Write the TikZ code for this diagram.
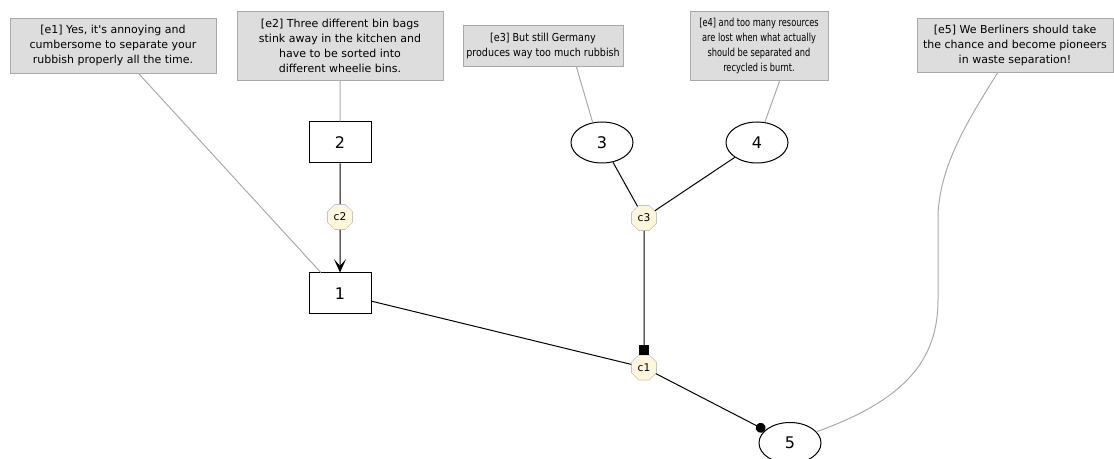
\documentclass[tikz,border=0pt]{standalone}
\usepackage{fontspec}
\setmainfont{DejaVu Sans}
\newfontfamily\narrowfont{DejaVu Sans}[FakeStretch=0.87]
\newfontfamily\narrowerfont{DejaVu Sans}[FakeStretch=0.75]
\usetikzlibrary{shapes.geometric,arrows.meta}
\definecolor{boxgray}{HTML}{DDDDDD}
\definecolor{linegray}{HTML}{AAAAAA}
\definecolor{octfill}{HTML}{FFF7DC}
\definecolor{octline}{HTML}{C4C4C4}
\begin{document}
\begin{tikzpicture}[x=0.75pt,y=-0.75pt]
			\tikzstyle{text box}=[draw=linegray, fill=boxgray, align=center, inner sep=0pt, font=\fontsize{8.25}{11.25}\selectfont]
			\tikzstyle{claim}=[draw, line width=0.75pt, minimum width=46.5pt, minimum height=30.75pt, inner sep=0pt, font=\fontsize{12}{14}\selectfont]
			\tikzstyle{conn}=[draw=octline, fill=octfill, regular polygon, regular polygon sides=8, minimum size=20.3pt, inner sep=0pt, font=\fontsize{8}{9}\selectfont]
			\tikzstyle{link}=[draw=linegray, line width=0.75pt]
			\tikzstyle{edge}=[draw, line width=0.75pt]
			\useasboundingbox (0,0) rectangle (1114,459);
			\path (113,45.5) node[text box, minimum width=154.5pt, minimum height=41.25pt] (e1) {[e1] Yes, it\textquotesingle s annoying and\\cumbersome to separate your\\rubbish properly all the time.}
			      (340,45.5) node[text box, minimum width=154.5pt, minimum height=51.75pt] (e2) {[e2] Three different bin bags\\stink away in the kitchen and\\have to be sorted into\\different wheelie bins.}
			      (543,45.5) node[text box, minimum width=120pt, minimum height=30.75pt, font=\fontsize{8.25}{11.25}\narrowfont] (e3) {[e3] But still Germany\\produces way too much rubbish}
			      (759,45.5) node[text box, minimum width=103.5pt, minimum height=51.75pt, font=\fontsize{8.25}{11.25}\narrowerfont] (e4) {[e4] and too many resources\\are lost when what actually\\should be separated and\\recycled is burnt.}
			      (1015,45) node[text box, minimum width=147pt, minimum height=40.5pt] (e5) {[e5] We Berliners should take\\the chance and become pioneers\\in waste separation!};
			\path (340,142.5) node[claim, rectangle] (n2) {2}
			      (340,293.5) node[claim, rectangle] (n1) {1}
			      (602,142.5) node[claim, ellipse] (n3) {3}
			      (757,142.5) node[claim, ellipse] (n4) {4}
			      (790,443) node[claim, ellipse] (n5) {5}
			      (340,217) node[conn] (c2) {c2}
			      (644,218) node[conn] (c3) {c3}
			      (644,367.5) node[conn] (c1) {c1};
			\draw[link] (e1) -- (n1)
			      (e2) -- (n2)
			      (e3.-32) -- (n3.115)
			      (e4.-59) -- (n4.69);
			\draw[link] (e5.238) .. controls (968,120) and (940,165) .. (938,215) -- (938,300) .. controls (938,360) and (905,400) .. (n5.23);
			\draw[edge] (n2) -- (c2)
			      (n3) -- (c3)
			      (n4) -- (c3)
			      (n1) -- (c1);
			\draw[edge, -{Stealth[length=10pt, width=9pt, inset=5pt]}] (c2) -- (n1);
			\draw[edge, -{Square[length=7.5pt, width=7.5pt]}] (c3) -- (c1);
			\draw[edge, -{Circle[length=7.5pt]}] (c1) -- (n5);
		\end{tikzpicture}
\end{document}
